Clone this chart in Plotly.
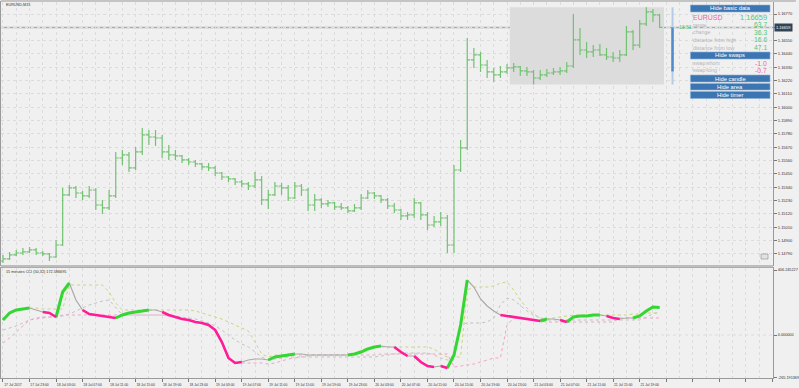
import plotly.graph_objects as go
import pandas as pd

# ---------------- data ----------------
bar_times = pd.date_range("2017-07-17 19:00", periods=100, freq="h")

open_ = [1.14732, 1.14749, 1.14782, 1.14798, 1.14807, 1.14823, 1.14798, 1.14790, 1.14765, 1.14864,
         1.15277, 1.15335, 1.15293, 1.15269, 1.15318, 1.15194, 1.15170, 1.15269, 1.15582, 1.15607,
         1.15500, 1.15632, 1.15772, 1.15755, 1.15747, 1.15632, 1.15607, 1.15599, 1.15566, 1.15549,
         1.15533, 1.15508, 1.15500, 1.15458, 1.15425, 1.15409, 1.15384, 1.15368, 1.15351, 1.15401,
         1.15236, 1.15277, 1.15351, 1.15335, 1.15252, 1.15351, 1.15318, 1.15194, 1.15236, 1.15203,
         1.15211, 1.15178, 1.15170, 1.15145, 1.15170, 1.15252, 1.15293, 1.15269, 1.15236, 1.15186,
         1.15153, 1.15104, 1.15112, 1.15211, 1.15112, 1.15029, 1.15054, 1.15087, 1.14864, 1.15483,
         1.15665, 1.16391, 1.16432, 1.16349, 1.16292, 1.16267, 1.16292, 1.16325, 1.16333, 1.16300,
         1.16292, 1.16242, 1.16267, 1.16283, 1.16292, 1.16300, 1.16341, 1.16556, 1.16473, 1.16457,
         1.16473, 1.16432, 1.16415, 1.16407, 1.16432, 1.16622, 1.16514, 1.16688, 1.16787, 1.16762]

high = [1.14782, 1.14807, 1.14823, 1.14840, 1.14848, 1.14840, 1.14815, 1.14798, 1.14906, 1.15335,
        1.15359, 1.15351, 1.15310, 1.15351, 1.15335, 1.15236, 1.15318, 1.15632, 1.15648, 1.15632,
        1.15673, 1.15830, 1.15813, 1.15813, 1.15772, 1.15689, 1.15648, 1.15607, 1.15582, 1.15566,
        1.15541, 1.15541, 1.15516, 1.15467, 1.15434, 1.15417, 1.15401, 1.15384, 1.15467, 1.15434,
        1.15318, 1.15384, 1.15376, 1.15359, 1.15384, 1.15368, 1.15335, 1.15285, 1.15252, 1.15236,
        1.15219, 1.15211, 1.15186, 1.15203, 1.15285, 1.15318, 1.15302, 1.15277, 1.15252, 1.15211,
        1.15161, 1.15137, 1.15252, 1.15219, 1.15137, 1.15104, 1.15137, 1.15112, 1.15524, 1.15731,
        1.16572, 1.16490, 1.16457, 1.16391, 1.16325, 1.16341, 1.16358, 1.16366, 1.16341, 1.16333,
        1.16308, 1.16308, 1.16316, 1.16325, 1.16333, 1.16374, 1.16770, 1.16655, 1.16539, 1.16514,
        1.16523, 1.16490, 1.16457, 1.16473, 1.16671, 1.16638, 1.16721, 1.16825, 1.16811, 1.16770]

low = [1.14716, 1.14741, 1.14774, 1.14782, 1.14798, 1.14782, 1.14774, 1.14732, 1.14757, 1.14856,
       1.15269, 1.15252, 1.15236, 1.15252, 1.15153, 1.15120, 1.15153, 1.15252, 1.15524, 1.15467,
       1.15483, 1.15607, 1.15689, 1.15681, 1.15582, 1.15566, 1.15566, 1.15541, 1.15524, 1.15508,
       1.15483, 1.15475, 1.15434, 1.15401, 1.15384, 1.15359, 1.15343, 1.15318, 1.15335, 1.15194,
       1.15161, 1.15269, 1.15277, 1.15227, 1.15244, 1.15269, 1.15145, 1.15145, 1.15170, 1.15178,
       1.15153, 1.15153, 1.15128, 1.15137, 1.15153, 1.15244, 1.15244, 1.15211, 1.15161, 1.15128,
       1.15071, 1.15071, 1.15087, 1.15071, 1.14988, 1.15013, 1.15021, 1.14798, 1.14798, 1.15467,
       1.15648, 1.16325, 1.16292, 1.16242, 1.16209, 1.16242, 1.16275, 1.16292, 1.16259, 1.16259,
       1.16188, 1.16226, 1.16250, 1.16267, 1.16267, 1.16283, 1.16325, 1.16432, 1.16407, 1.16415,
       1.16424, 1.16391, 1.16374, 1.16374, 1.16424, 1.16473, 1.16490, 1.16671, 1.16704, 1.16655]

close = [1.14749, 1.14782, 1.14798, 1.14807, 1.14823, 1.14798, 1.14790, 1.14765, 1.14864, 1.15277,
         1.15335, 1.15293, 1.15269, 1.15318, 1.15194, 1.15170, 1.15269, 1.15582, 1.15607, 1.15500,
         1.15632, 1.15772, 1.15755, 1.15747, 1.15632, 1.15607, 1.15599, 1.15566, 1.15549, 1.15533,
         1.15508, 1.15500, 1.15458, 1.15425, 1.15409, 1.15384, 1.15368, 1.15351, 1.15401, 1.15236,
         1.15277, 1.15351, 1.15335, 1.15252, 1.15351, 1.15318, 1.15194, 1.15236, 1.15203, 1.15211,
         1.15178, 1.15170, 1.15145, 1.15170, 1.15252, 1.15293, 1.15269, 1.15236, 1.15186, 1.15153,
         1.15104, 1.15112, 1.15211, 1.15112, 1.15029, 1.15054, 1.15087, 1.14864, 1.15483, 1.15665,
         1.16391, 1.16432, 1.16349, 1.16292, 1.16267, 1.16292, 1.16325, 1.16333, 1.16300, 1.16292,
         1.16242, 1.16267, 1.16283, 1.16292, 1.16300, 1.16341, 1.16556, 1.16473, 1.16457, 1.16473,
         1.16432, 1.16415, 1.16407, 1.16432, 1.16622, 1.16514, 1.16688, 1.16787, 1.16762, 1.16659]

cci = [93.75, 137.5, 156.25, 162.5, 168.75, 156.25, 143.75, 137.5, 112.5, 268.75,
       325, 218.75, 156.25, 131.25, 125, 118.75, 112.5, 106.25, 125, 137.5,
       143.75, 150, 156.25, 156.25, 143.75, 125, 112.5, 100, 93.75, 81.25,
       75, 62.5, 31.25, -43.75, -143.75, -175, -168.75, -156.25, -150, -150,
       -156.25, -137.5, -131.25, -125, -118.75, -118.75, -125, -125, -125, -125,
       -125, -125, -125, -118.75, -106.25, -87.5, -75, -68.75, -75, -75,
       -106.25, -131.25, -131.25, -168.75, -193.75, -200, -193.75, -206.25, -125, 62.5,
       343.75, 300, 225, 181.25, 150, 125, 118.75, 112.5, 106.25, 100,
       93.75, 87.5, 100, 100, 93.75, 81.25, 112.5, 118.75, 118.75, 125,
       125, 118.75, 106.25, 100, 106.25, 106.25, 118.75, 150, 175, 172.59]

# 1 = rising (green), -1 = falling (pink), 0 = neutral (grey)
cci_state = [1, 1, 1, 1, 1, 0, 0, -1, -1, 1,
             1, 0, 0, -1, -1, -1, -1, -1, 1, 1,
             1, 1, 1, 0, 0, -1, -1, -1, -1, -1,
             -1, -1, -1, -1, -1, -1, -1, 0, 0, 0,
             0, 1, 1, 1, 1, 0, 0, 0, 0, 0,
             0, 0, 0, 1, 1, 1, 1, 1, 0, 0,
             -1, -1, 0, -1, -1, -1, 0, -1, 1, 1,
             1, 0, 0, 0, 0, 0, -1, -1, -1, -1,
             -1, -1, 1, 0, 0, -1, 1, 1, 1, 1,
             1, 0, -1, -1, 0, 0, 1, 1, 1, 1]

band_upper = [None, None, None, None, 168.75, 168.75, 162.5, 162.5, 162.5, 162.5,
              312.5, 312.5, 312.5, 312.5, 312.5, 312.5, 268.75, 200, 156.25, 156.25,
              156.25, 156.25, 156.25, 156.25, 156.25, 156.25, 156.25, 156.25, 156.25, 150,
              137.5, 125, 112.5, 100, 81.25, 62.5, 43.75, 25, -43.75, -118.75,
              -137.5, -125, -125, -125, -125, -125, -125, -125, -125, -125,
              -125, -125, -125, -118.75, -93.75, -81.25, -75, -75, -75, -75,
              -75, -75, -75, -75, -75, -87.5, -118.75, -137.5, -137.5, -137.5,
              281.25, 300, 300, 300, 306.25, 325, 331.25, 281.25, 218.75, 168.75,
              131.25, 106.25, 100, 106.25, 112.5, 118.75, 125, 125, 125, 125,
              125, 125, 125, 125, 125, 131.25, 131.25, 137.5, 137.5, 137.5]

band_mid = [31.25, 43.75, 56.25, 75, 93.75, 106.25, 112.5, 112.5, 112.5, 118.75,
            131.25, 150, 168.75, 187.5, 200, 212.5, 218.75, 168.75, 125, 125,
            125, 125, 125, 125, 125, 118.75, 118.75, 112.5, 106.25, 100,
            87.5, 75, 56.25, 31.25, 0, -31.25, -56.25, -75, -106.25, -137.5,
            -156.25, -150, -143.75, -137.5, -137.5, -137.5, -137.5, -137.5, -137.5, -137.5,
            -137.5, -137.5, -137.5, -137.5, -137.5, -137.5, -137.5, -131.25, -125, -118.75,
            -112.5, -112.5, -112.5, -112.5, -112.5, -125, -143.75, -156.25, -156.25, 62.5,
            75, 75, 75, 81.25, 106.25, 187.5, 231.25, 218.75, 181.25, 150,
            125, 106.25, 93.75, 93.75, 93.75, 93.75, 93.75, 93.75, 93.75, 93.75,
            93.75, 93.75, 93.75, 93.75, 93.75, 93.75, 93.75, 112.5, 131.25, 143.75]

band_lower = [-50, -18.75, 18.75, 56.25, 93.75, 100, 106.25, 112.5, 112.5, 125,
              125, 125, 125, 125, 125, 125, 125, 125, 125, 125,
              125, 125, 125, 125, 125, 118.75, 112.5, 100, 93.75, 81.25,
              75, 62.5, 31.25, -43.75, -143.75, -175, -175, -175, -175, -175,
              -181.25, -175, -162.5, -150, -143.75, -137.5, -131.25, -125, -125, -125,
              -125, -125, -125, -125, -125, -125, -125, -118.75, -118.75, -118.75,
              -118.75, -118.75, -118.75, -118.75, -118.75, -118.75, -118.75, -118.75, -200, -193.75,
              -187.5, -181.25, -168.75, -156.25, -143.75, -143.75, 62.5, 106.25, 106.25, 100,
              93.75, 87.5, 81.25, 81.25, 81.25, 81.25, 81.25, 81.25, 81.25, 81.25,
              81.25, 81.25, 81.25, 106.25, 106.25, 106.25, 106.25, 106.25, 106.25, 106.25]

x_tick_times = pd.date_range("2017-07-17 19:00", "2017-07-22 15:00", freq="4h")
x_minor_times = pd.date_range("2017-07-17 21:00", "2017-07-22 13:00", freq="4h")
x_labels = ["17 Jul 2017", "17 Jul 23:00", "18 Jul 03:00", "18 Jul 07:00", "18 Jul 11:00",
            "18 Jul 15:00", "18 Jul 19:00", "18 Jul 23:00", "19 Jul 03:00", "19 Jul 07:00",
            "19 Jul 11:00", "19 Jul 15:00", "19 Jul 19:00", "19 Jul 23:00", "20 Jul 03:00",
            "20 Jul 07:00", "20 Jul 11:00", "20 Jul 15:00", "20 Jul 19:00", "20 Jul 23:00",
            "21 Jul 03:00", "21 Jul 07:00", "21 Jul 11:00", "21 Jul 15:00", "21 Jul 19:00"]

price_ticks = [1.14790, 1.14900, 1.15010, 1.15120, 1.15230, 1.15340, 1.15450, 1.15560, 1.15670,
               1.15780, 1.15890, 1.16000, 1.16110, 1.16220, 1.16330, 1.16440, 1.16550, 1.16660, 1.16770]
price_labels = ["1.14790", "1.14900", "1.15010", "1.15120", "1.15230", "1.15340", "1.15450", "1.15560",
                "1.15670", "1.15780", "1.15890", "1.16000", "1.16110", "1.16220", "1.16330", "1.16440",
                "1.16550", "", "1.16770"]
cci_ticks = [406.245227, 0.0, -265.191369]
cci_labels = ["406.245227", "0.000000", "-265.191369"]

symbol = "EURUSD"
last_price = 1.16659
day_open, day_high, day_low = 1.16296, 1.16825, 1.16188
box_start, box_end = "2017-07-20 23:25", "2017-07-21 22:40"
stat_labels = ["range", "change", "distance from high", "distance from low"]
stat_values = ["63.7", "36.3", "16.6", "47.1"]
swap_labels = ["swap short", "swap long"]
swap_values = ["-1.0", "-0.7"]
timer_text = "13:51"
cci_title = "15 minutes CCI (50,32) 172.586695"

# ---------------- geometry helpers ----------------
W, H = 799, 388
ML, MR, MT, MB = 0, 23, 2, 10
PW, PH = W - ML - MR, H - MT - MB


def fx(p):
    return (p - ML) / PW


def fy(p):
    return (H - MB - p) / PH


FONT = "Liberation Sans"
GRID = "#dcdcdc"
AX = "#9a9a9a"
GREEN_TXT = "#55c77a"
PINK_TXT = "#e8699a"

fig = go.Figure()

fig.add_trace(go.Ohlc(x=bar_times, open=open_, high=high, low=low, close=close,
                      increasing=dict(line=dict(color="#72c272", width=1.2)),
                      decreasing=dict(line=dict(color="#72c272", width=1.2)),
                      tickwidth=0.45, xaxis="x", yaxis="y", hoverinfo="skip"))

# CCI bands
for vals, col in [(band_upper, "#c9d67a"), (band_mid, "#c2c2c2"), (band_lower, "#f2a2c8")]:
    fig.add_trace(go.Scatter(x=bar_times, y=vals, mode="lines", xaxis="x2", yaxis="y2",
                             line=dict(color=col, width=1, dash="dot"), hoverinfo="skip"))

# CCI grey base line
fig.add_trace(go.Scatter(x=bar_times, y=cci, mode="lines", xaxis="x2", yaxis="y2",
                         line=dict(color="#a9a9a9", width=1.2), hoverinfo="skip"))


def segments(state_value):
    xs, ys = [], []
    for i in range(1, len(cci)):
        if cci_state[i] == state_value:
            if xs and xs[-1] is not None and xs[-1] == bar_times[i - 1]:
                xs.append(bar_times[i]); ys.append(cci[i])
            else:
                if xs:
                    xs.append(None); ys.append(None)
                xs += [bar_times[i - 1], bar_times[i]]
                ys += [cci[i - 1], cci[i]]
    return xs, ys


for sv, col, wd in [(1, "#33d633", 3.0), (-1, "#ff1c96", 2.6)]:
    sx, sy = segments(sv)
    fig.add_trace(go.Scatter(x=sx, y=sy, mode="lines", xaxis="x2", yaxis="y2",
                             line=dict(color=col, width=wd), connectgaps=False, hoverinfo="skip"))

x_range = ["2017-07-17 18:42", "2017-07-22 15:06"]
tick_text_full = x_labels + [""] * (len(x_tick_times) - len(x_labels))

common_x = dict(range=x_range, tickvals=list(x_tick_times), showgrid=True, gridcolor=GRID,
                griddash="dot", gridwidth=1, showline=True, linecolor=AX, mirror=True,
                zeroline=False,
                minor=dict(tickvals=list(x_minor_times), showgrid=True, gridcolor=GRID,
                           griddash="dot", gridwidth=1, ticks=""))

fig.update_layout(
    width=W, height=H, margin=dict(l=ML, r=MR, t=MT, b=MB),
    paper_bgcolor="#f0f0f0", plot_bgcolor="#f0f0f0", showlegend=False,
    font=dict(family=FONT, size=4, color="#333333"),
    xaxis=dict(domain=[0, 1], anchor="y", showticklabels=False, ticks="",
               rangeslider=dict(visible=False), **common_x),
    xaxis2=dict(domain=[0, 1], anchor="y2", matches="x", ticktext=tick_text_full,
                ticks="outside", ticklen=3, tickcolor="#777777", ticklabelshift=10,
                tickfont=dict(size=3.4, color="#333333", family=FONT), **common_x),
    yaxis=dict(domain=[fy(265), 1], anchor="x", side="right", range=[1.14699, 1.16869],
               tickvals=price_ticks, ticktext=price_labels, ticks="outside", ticklen=3,
               tickcolor="#777777", tickfont=dict(size=4, color="#333333", family=FONT),
               showgrid=True, gridcolor=GRID, griddash="dot", showline=True, linecolor=AX,
               mirror=True, zeroline=False),
    yaxis2=dict(domain=[0, fy(268)], anchor="x2", side="right", range=[-268.75, 418.75],
                tickvals=cci_ticks, ticktext=cci_labels, ticks="outside", ticklen=3,
                tickcolor="#777777", tickfont=dict(size=3.8, color="#333333", family=FONT),
                showgrid=False, showline=True, linecolor=AX, mirror=True, zeroline=False),
)

shapes = []
# day range box
shapes.append(dict(type="rect", xref="x", yref="y", x0=box_start, x1=box_end, y0=day_low, y1=day_high,
                   fillcolor="#dcdcdc", line=dict(width=0), layer="between"))
# current price line
shapes.append(dict(type="line", xref="paper", yref="y", x0=0, x1=1, y0=last_price, y1=last_price,
                   line=dict(color="#a3abb3", width=1.5), layer="between"))
# zero line in CCI
shapes.append(dict(type="line", xref="paper", yref="y2", x0=0, x1=1, y0=0, y1=0,
                   line=dict(color=GRID, width=1, dash="dot"), layer="below"))
# daily candle (blue bar)
shapes.append(dict(type="line", xref="paper", yref="y", x0=fx(675), x1=fx(675), y0=day_low, y1=day_high,
                   line=dict(color="#b3cce6", width=2)))
shapes.append(dict(type="line", xref="paper", yref="y", x0=fx(675), x1=fx(675), y0=day_open, y1=last_price,
                   line=dict(color="#4f8ccb", width=2.5)))
# top window strip
shapes.append(dict(type="rect", xref="paper", yref="paper", x0=0, x1=fx(W), y0=1, y1=fy(0),
                   fillcolor="#c4c4c4", line=dict(width=0)))
# panel separator
shapes.append(dict(type="rect", xref="paper", yref="paper", x0=0, x1=1, y0=fy(267.5), y1=fy(265),
                   fillcolor="#bdbdbd", line=dict(width=0)))
# small icon
shapes.append(dict(type="rect", xref="paper", yref="paper", x0=fx(764), x1=fx(771), y0=fy(259), y1=fy(254),
                   fillcolor="#e2e2e2", line=dict(color="#8a8a8a", width=0.6)))

annotations = []
# buttons
buttons = [("Hide basic data", 5, 12), ("Hide swaps", 52, 59), ("Hide candle", 75, 82),
           ("Hide area", 83.5, 90), ("Hide timer", 91.5, 98.5)]
for txt, y0, y1 in buttons:
    shapes.append(dict(type="rect", xref="paper", yref="paper", x0=fx(693), x1=fx(773),
                       y0=fy(y1), y1=fy(y0), fillcolor="#3b76b3", line=dict(color="#8fb2d6", width=0.6)))
    annotations.append(dict(xref="paper", yref="paper", x=fx(733), y=fy((y0 + y1) / 2), text=txt,
                            showarrow=False, font=dict(size=5.8, color="white", family=FONT),
                            xanchor="center", yanchor="middle"))

annotations.append(dict(xref="paper", yref="paper", x=fx(694), y=fy(17.5), text=symbol, showarrow=False,
                        font=dict(size=7, color=PINK_TXT, family=FONT), xanchor="left", yanchor="middle"))
annotations.append(dict(xref="paper", yref="paper", x=fx(772), y=fy(17.5), text=f"{last_price:.5f}",
                        showarrow=False, font=dict(size=7.5, color=GREEN_TXT, family=FONT),
                        xanchor="right", yanchor="middle"))
for i, (lab, val) in enumerate(zip(stat_labels, stat_values)):
    yy = 24.5 + i * 7.7
    annotations.append(dict(xref="paper", yref="paper", x=fx(694), y=fy(yy), text=lab, showarrow=False,
                            font=dict(size=5.3, color="#b4b4b4", family=FONT), xanchor="left", yanchor="middle"))
    annotations.append(dict(xref="paper", yref="paper", x=fx(772), y=fy(yy), text=val, showarrow=False,
                            font=dict(size=6.8, color=GREEN_TXT, family=FONT), xanchor="right", yanchor="middle"))
for i, (lab, val) in enumerate(zip(swap_labels, swap_values)):
    yy = 63 + i * 7.3
    annotations.append(dict(xref="paper", yref="paper", x=fx(694), y=fy(yy), text=lab, showarrow=False,
                            font=dict(size=5.3, color="#b4b4b4", family=FONT), xanchor="left", yanchor="middle"))
    annotations.append(dict(xref="paper", yref="paper", x=fx(772), y=fy(yy), text=val, showarrow=False,
                            font=dict(size=6.8, color=PINK_TXT, family=FONT), xanchor="right", yanchor="middle"))

# timer text
annotations.append(dict(xref="paper", yref="y", x=fx(679), y=last_price, text=timer_text, showarrow=False,
                        font=dict(size=5, color=GREEN_TXT, family=FONT), xanchor="left", yanchor="middle"))
# current price label on axis
annotations.append(dict(xref="paper", yref="y", x=1, y=last_price, text=f"{last_price:.5f}", showarrow=False,
                        font=dict(size=4, color="white", family=FONT), xanchor="left", yanchor="middle",
                        xshift=1, bgcolor="#334357", borderpad=1))
# titles
annotations.append(dict(xref="paper", yref="paper", x=fx(3), y=fy(4.5), text="EURUSD,M15", showarrow=False,
                        font=dict(size=3.8, color="#333333", family=FONT), xanchor="left", yanchor="middle"))
annotations.append(dict(xref="paper", yref="paper", x=fx(3), y=fy(272), text=cci_title, showarrow=False,
                        font=dict(size=3.8, color="#333333", family=FONT), xanchor="left", yanchor="middle"))

fig.update_layout(shapes=shapes, annotations=annotations)
fig.write_html("out.html")
